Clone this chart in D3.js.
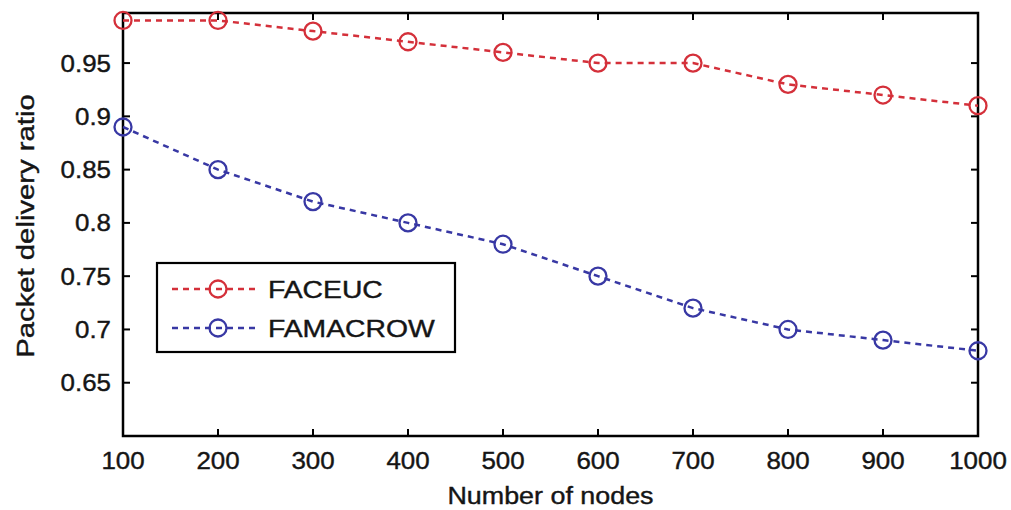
<!DOCTYPE html>
<html>
<head>
<meta charset="utf-8">
<script src="https://cdn.jsdelivr.net/npm/d3@7"></script>
<style>
  body { margin: 0; background: #fff; }
  svg text { font-family: "Liberation Sans", Arial, sans-serif; fill: #151515; stroke: #151515; stroke-width: 0.4px; }
</style>
</head>
<body>
<svg width="1011" height="510"></svg>
<script>
// data
var nodes = [100, 200, 300, 400, 500, 600, 700, 800, 900, 1000];
var faceuc = [0.99, 0.99, 0.98, 0.97, 0.96, 0.95, 0.95, 0.93, 0.92, 0.91];
var famacrow = [0.89, 0.85, 0.82, 0.80, 0.78, 0.75, 0.72, 0.70, 0.69, 0.68];
var seriesNames = ["FACEUC", "FAMACROW"];
var yTicks = [0.65, 0.7, 0.75, 0.8, 0.85, 0.9, 0.95];
var yTickLabels = ["0.65", "0.7", "0.75", "0.8", "0.85", "0.9", "0.95"];

var colors = ["#d4303a", "#3838a4"];
var pArea = [123, 13, 978, 436]; // left, top, right, bottom

var svg = d3.select("svg");
var g = svg.append("g");

var xScale = d3.scaleLinear().domain([100, 1000]).range([pArea[0], pArea[2]]);
var yScale = d3.scaleLinear().domain([0.6, 0.997]).range([pArea[3], pArea[1]]);

// stretched text, the reference font is wider than Arial
function addText(x, y, str, anchor, size, k, rot) {
  var t = g.append("text")
    .attr("transform", `translate(${x},${y})` + (rot ? ` rotate(${rot})` : "") + ` scale(${k},1)`)
    .attr("text-anchor", anchor)
    .style("font-size", size + "px")
    .text(str);
  return t;
}

// ticks, inside on all four sides
var tickLen = 7;
nodes.forEach(function(v) {
  var x = xScale(v);
  g.append("line").attr("x1", x).attr("x2", x)
    .attr("y1", pArea[3]).attr("y2", pArea[3] - tickLen)
    .attr("stroke", "#000").attr("stroke-width", 2);
  g.append("line").attr("x1", x).attr("x2", x)
    .attr("y1", pArea[1]).attr("y2", pArea[1] + tickLen)
    .attr("stroke", "#000").attr("stroke-width", 2);
  addText(x, 469, String(v), "middle", 24, 1.08);
});
yTicks.forEach(function(v, i) {
  var y = yScale(v);
  g.append("line").attr("x1", pArea[0]).attr("x2", pArea[0] + tickLen)
    .attr("y1", y).attr("y2", y)
    .attr("stroke", "#000").attr("stroke-width", 2);
  g.append("line").attr("x1", pArea[2]).attr("x2", pArea[2] - tickLen)
    .attr("y1", y).attr("y2", y)
    .attr("stroke", "#000").attr("stroke-width", 2);
  addText(111, y + 8.5, yTickLabels[i], "end", 24, 1.08);
});

// frame
g.append("rect")
  .attr("x", pArea[0]).attr("y", pArea[1])
  .attr("width", pArea[2] - pArea[0]).attr("height", pArea[3] - pArea[1])
  .attr("fill", "none").attr("stroke", "#000").attr("stroke-width", 2.5);

// axis labels
addText((pArea[0] + pArea[2]) / 2, 504, "Number of nodes", "middle", 24, 1.12);
addText(34, 226, "Packet delivery ratio", "middle", 24, 1.22, -90);

// series
var line = d3.line()
  .x(d => xScale(d[0]))
  .y(d => yScale(d[1]));

[faceuc, famacrow].forEach(function(vals, si) {
  var data = nodes.map((n, i) => [n, vals[i]]);
  g.append("path")
    .datum(data)
    .attr("d", line)
    .attr("fill", "none")
    .attr("stroke", colors[si])
    .attr("stroke-width", 2.5)
    .attr("stroke-dasharray", "6,5");
  g.selectAll(".dot" + si)
    .data(data)
    .enter()
    .append("circle")
    .attr("class", "dot" + si)
    .attr("cx", d => xScale(d[0]))
    .attr("cy", d => yScale(d[1]))
    .attr("r", 8.5)
    .attr("fill", "none")
    .attr("stroke", colors[si])
    .attr("stroke-width", 2.3);
});

// legend
var lg = g.append("g");
lg.append("rect")
  .attr("x", 157).attr("y", 263)
  .attr("width", 298).attr("height", 89)
  .attr("fill", "#fff").attr("stroke", "#000").attr("stroke-width", 2.2);
seriesNames.forEach(function(name, i) {
  var y = 289 + i * 39;
  lg.append("line")
    .attr("x1", 172).attr("x2", 257)
    .attr("y1", y).attr("y2", y)
    .attr("stroke", colors[i]).attr("stroke-width", 2.5)
    .attr("stroke-dasharray", "6,5");
  lg.append("circle")
    .attr("cx", 218).attr("cy", y).attr("r", 8.5)
    .attr("fill", "none").attr("stroke", colors[i]).attr("stroke-width", 2.3);
  addText(268, y + 9, name, "start", 24, 1.18);
});
</script>
</body>
</html>
